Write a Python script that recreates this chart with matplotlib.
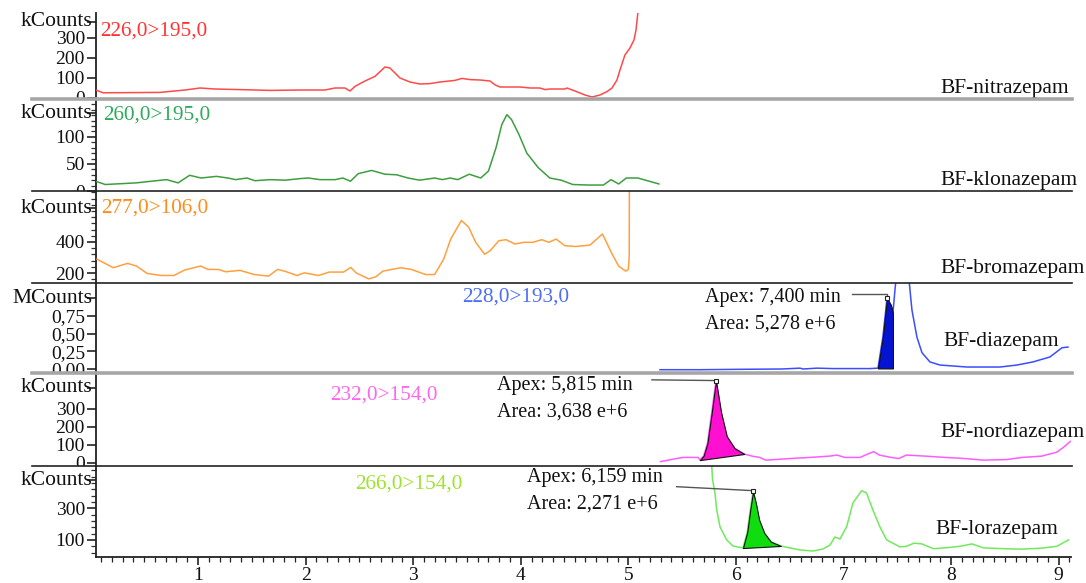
import numpy as np
import matplotlib
matplotlib.use("Agg")
import matplotlib.pyplot as plt
from matplotlib.lines import Line2D
from matplotlib.ticker import FixedLocator, MultipleLocator, NullLocator
from matplotlib.transforms import blended_transform_factory, Bbox, TransformedBbox

plt.rcParams['font.family'] = ['Liberation Serif', 'DejaVu Serif']

# ---------------- data (time in min, intensity) ----------------
nitra_t = [0.052, 0.117, 0.40, 0.647, 0.879, 1.019, 1.158, 1.390, 1.669, 1.948, 2.180, 2.273, 2.366, 2.413,
           2.459, 2.552, 2.645, 2.738, 2.784, 2.831, 2.877, 2.970, 3.063, 3.156, 3.249, 3.388, 3.454, 3.528,
           3.621, 3.714, 3.760, 3.807, 3.993, 4.086, 4.178, 4.225, 4.271, 4.411, 4.429, 4.504, 4.597, 4.662,
           4.736, 4.801, 4.848, 4.894, 4.922, 4.968, 5.015, 5.052, 5.071, 5.089, 5.100]
nitra_v = [40, 26, 27, 28, 40, 50, 45, 42, 38, 40, 40, 50, 50, 35, 58, 85, 108, 155, 150, 125, 100, 80, 70, 72,
           80, 88, 98, 92, 90, 85, 66, 55, 55, 50, 50, 42, 45, 45, 50, 35, 15, 5, 15, 32, 50, 90, 140, 215, 250,
           290, 340, 430, 600]

klon_t = [0.049, 0.138, 0.424, 0.566, 0.708, 0.815, 0.922, 1.029, 1.171, 1.278, 1.349, 1.456, 1.528, 1.670,
          1.812, 1.954, 2.026, 2.133, 2.275, 2.347, 2.417, 2.489, 2.613, 2.738, 2.845, 2.952, 3.059, 3.201,
          3.272, 3.344, 3.414, 3.521, 3.628, 3.700, 3.770, 3.824, 3.871, 3.914, 3.984, 4.056, 4.163, 4.270,
          4.376, 4.483, 4.625, 4.768, 4.839, 4.910, 4.981, 5.088, 5.195, 5.284]
klon_v = [18, 12, 15, 18, 21, 15, 29, 24, 27, 24, 21, 24, 19, 21, 20, 23, 24, 21, 21, 24, 18, 32, 38, 31, 30,
          24, 20, 24, 21, 24, 21, 31, 24, 37, 80, 123, 141, 132, 104, 70, 43, 24, 20, 12, 11, 11, 21, 13, 24,
          24, 18, 13]

brom_t = [0.062, 0.212, 0.345, 0.428, 0.527, 0.660, 0.776, 0.875, 1.025, 1.092, 1.191, 1.257, 1.390, 1.523,
          1.656, 1.739, 1.805, 1.921, 1.988, 2.121, 2.220, 2.353, 2.419, 2.469, 2.586, 2.652, 2.718, 2.884,
          2.983, 3.116, 3.199, 3.283, 3.349, 3.448, 3.515, 3.581, 3.664, 3.714, 3.796, 3.863, 3.946, 4.029,
          4.112, 4.195, 4.261, 4.328, 4.411, 4.510, 4.643, 4.759, 4.842, 4.909, 4.975, 5.000, 5.008, 5.010]
brom_v = [289, 234, 262, 245, 197, 184, 184, 219, 245, 223, 223, 208, 217, 190, 180, 223, 212, 184, 201, 184,
          206, 206, 236, 201, 162, 175, 212, 234, 223, 190, 190, 289, 419, 539, 496, 398, 321, 343, 408, 415,
          387, 398, 398, 415, 398, 419, 376, 371, 380, 452, 332, 245, 212, 223, 310, 1000]

diaz_t = [5.294, 5.666, 6.000, 6.428, 6.595, 6.623, 6.753, 6.902, 7.134, 7.246, 7.320, 7.366, 7.404, 7.441,
          7.459, 7.478, 7.497, 7.550, 7.599, 7.636, 7.682, 7.729, 7.803, 7.896, 8.147, 8.454, 8.612, 8.761,
          8.918, 9.030, 9.086]
diaz_v = [-0.010, -0.010, -0.005, 0.000, 0.012, 0.000, 0.012, 0.006, 0.006, 0.006, 0.012, 0.46, 1.00, 0.90,
          0.79, 1.12, 1.40, 2.20, 1.40, 0.83, 0.45, 0.23, 0.10, 0.056, 0.028, 0.028, 0.056, 0.10, 0.17, 0.30,
          0.31]

nord_t = [5.300, 5.505, 5.649, 5.665, 5.700, 5.735, 5.775, 5.797, 5.815, 5.862, 5.915, 5.987, 6.077, 6.151,
          6.222, 6.276, 6.366, 6.509, 6.688, 6.867, 6.939, 7.011, 7.154, 7.226, 7.280, 7.333, 7.441, 7.513,
          7.584, 7.763, 7.943, 8.122, 8.301, 8.516, 8.659, 8.839, 8.982, 9.050, 9.108]
nord_v = [8, 31, 31, 16, 40, 110, 280, 380, 455, 281, 148, 82, 50, 38, 31, 16, 19, 25, 31, 38, 44, 31, 31, 50,
          63, 44, 31, 25, 44, 38, 31, 25, 16, 19, 31, 38, 60, 90, 120]

lora_t = [5.760, 5.774, 5.783, 5.805, 5.821, 5.852, 5.914, 5.972, 6.065, 6.105, 6.135, 6.159, 6.185, 6.216,
          6.263, 6.324, 6.417, 6.471, 6.595, 6.716, 6.809, 6.874, 6.920, 6.967, 7.029, 7.087, 7.168, 7.214,
          7.273, 7.338, 7.401, 7.524, 7.584, 7.656, 7.728, 7.835, 7.943, 8.086, 8.194, 8.301, 8.480, 8.659,
          8.839, 8.982, 9.090]
lora_v = [900, 573, 478, 396, 289, 182, 100, 62, 49, 150, 300, 405, 333, 226, 144, 89, 62, 54, 37, 30, 43, 68,
          119, 106, 184, 333, 411, 396, 289, 182, 100, 56, 60, 80, 75, 45, 50, 60, 75, 50, 45, 42, 48, 60, 100]

transitions = ["226,0>195,0", "260,0>195,0", "277,0>106,0", "228,0>193,0", "232,0>154,0", "266,0>154,0"]
compounds = ["BF-nitrazepam", "BF-klonazepam", "BF-bromazepam", "BF-diazepam", "BF-nordiazepam", "BF-lorazepam"]
units = ["kCounts", "kCounts", "kCounts", "MCounts", "kCounts", "kCounts"]
unit_at = [380, 144, 619, 1.0, 417, 478]
ytick_vals = [[0, 100, 200, 300], [0, 50, 100], [200, 400], [0, 0.25, 0.5, 0.75], [0, 100, 200, 300], [100, 300]]
ytick_text = [["0", "100", "200", "300"], ["0", "50", "100"], ["200", "400"],
              ["0,00", "0,25", "0,50", "0,75"], ["0", "100", "200", "300"], ["100", "300"]]
xtick_vals = [1, 2, 3, 4, 5, 6, 7, 8, 9]

# integrated peaks: panel index, apex time, apex label, area label, window
peak_panel = [3, 4, 5]
peak_apex = [7.400, 5.815, 6.159]
peak_apex_txt = ["Apex: 7,400 min", "Apex: 5,815 min", "Apex: 6,159 min"]
peak_area_txt = ["Area: 5,278 e+6", "Area: 3,638 e+6", "Area: 2,271 e+6"]
peak_start = [7.320, 5.665, 6.065]
peak_end = [7.459, 6.077, 6.417]

series_t = [nitra_t, klon_t, brom_t, diaz_t, nord_t, lora_t]
series_v = [nitra_v, klon_v, brom_v, diaz_v, nord_v, lora_v]

# ---------------- styling / layout ----------------
line_colors = ['#ff4a4a', '#3d9e3d', '#ffa040', '#3a4dff', '#ff5cff', '#70ea5c']
label_colors = ['#ff3333', '#2eaa5a', '#ff8c1a', '#4d6ef5', '#ff66ee', '#9ee32e']
fill_colors = {3: '#0514d0', 4: '#ff10d0', 5: '#10dd10'}

W, H = 1086, 583
fig = plt.figure(figsize=(W / 100, H / 100), dpi=100)
XL, XR = 96, 1071
tops = [13, 99, 191, 283, 373, 466]
bots = [99, 191, 283, 373, 466, 557]
clip_tops = [0, 99, 191, 283, 373, 466]
ylims = [(-5, 425), (0, 170), (135.5, 729), (-0.0565, 1.215), (-16.7, 500), (-7.6, 566.6)]
xlim = (0.052, 9.114)

mrm_pos = [(0.089, 335), (0.117, 141), (0.099, 619), (3.454, 1.017), (2.227, 378), (2.459, 453)]
name_pos = [(7.896, 50), (7.896, 20), (7.896, 232), (7.924, 0.395), (7.896, 172), (7.85, 163)]
apex_txt_pos = {3: (5.712, 1.017, 0.636), 4: (3.779, 428, 283), 5: (4.058, 497, 327)}
leader = {3: ([7.075, 7.40, 7.40], [1.06, 1.06, 1.0]),
          4: ([5.219, 5.815], [462, 458]),
          5: ([5.449, 6.159], [436, 411])}

axes = []
for i in range(6):
    ax = fig.add_axes([XL / W, 1 - bots[i] / H, (XR - XL) / W, (bots[i] - tops[i]) / H])
    ax.patch.set_alpha(0)
    ax.set_xlim(*xlim)
    ax.set_ylim(*ylims[i])
    for s in ['top', 'right']:
        ax.spines[s].set_visible(False)
    ax.spines['left'].set_linewidth(1.3)
    ax.spines['left'].set_color('#222222')
    if i < 5:
        ax.spines['bottom'].set_visible(False)
        ax.tick_params(axis='x', which='both', bottom=False, labelbottom=False)
    else:
        ax.spines['bottom'].set_linewidth(1.3)
        ax.spines['bottom'].set_color('#222222')
        ax.xaxis.set_major_locator(FixedLocator(xtick_vals))
        ax.xaxis.set_minor_locator(MultipleLocator(0.1))
        ax.set_xticklabels([str(v) for v in xtick_vals])
        ax.tick_params(axis='x', which='major', direction='out', length=6, width=1.1, pad=1.5,
                       labelsize=14, colors='#111111')
        ax.tick_params(axis='x', which='minor', direction='out', length=3.5, width=0.9, colors='#222222')

    yt = ytick_vals[i] + [unit_at[i]]
    ax.yaxis.set_major_locator(FixedLocator(yt))
    ax.set_yticklabels(ytick_text[i] + [''])
    if i == 1:
        ax.yaxis.set_minor_locator(MultipleLocator(10))
    elif i == 2:
        ax.yaxis.set_minor_locator(MultipleLocator(40))
    elif i == 5:
        ax.yaxis.set_minor_locator(FixedLocator(np.arange(20, 567, 40)))
    else:
        ax.yaxis.set_minor_locator(NullLocator())
    ax.tick_params(axis='y', which='major', direction='out', length=6.5, width=1.1, pad=1.5,
                   labelsize=14, colors='#111111')
    ax.tick_params(axis='y', which='minor', direction='out', length=3.5, width=0.9, colors='#333333')

    # clip left-margin texts to the panel's own band (as in the instrument software)
    clipbox = TransformedBbox(Bbox([[0, 1 - bots[i] / H], [XL / W, 1 - clip_tops[i] / H]]), fig.transFigure)
    for tk in ax.yaxis.get_major_ticks():
        tk.label1.set_clip_box(clipbox)
        tk.label1.set_clip_on(True)

    trans = blended_transform_factory(ax.transAxes, ax.transData)
    ut = ax.text(-4 / (XR - XL), unit_at[i], units[i], transform=trans, ha='right', va='center',
                 fontsize=15.5, color='#111111')
    ut.set_clip_box(clipbox)
    ut.set_clip_on(True)

    t = np.array(series_t[i])
    v = np.array(series_v[i])
    ax.plot(t, v, color=line_colors[i], lw=1.1, zorder=3)

    ax.text(mrm_pos[i][0], mrm_pos[i][1], transitions[i], color=label_colors[i], fontsize=15.3,
            ha='left', va='center')
    ax.text(name_pos[i][0], name_pos[i][1], compounds[i], color='#111111', fontsize=15.5,
            ha='left', va='center')
    axes.append(ax)

for k, pi in enumerate(peak_panel):
    ax = axes[pi]
    t = np.array(series_t[pi])
    v = np.array(series_v[pi])
    m = (t >= peak_start[k] - 1e-9) & (t <= peak_end[k] + 1e-9)
    tb, vb = t[m], v[m]
    base = np.interp(tb, [tb[0], tb[-1]], [vb[0], vb[-1]])
    if pi == 3:
        base = np.full_like(tb, 0.008)
    ax.fill_between(tb, base, vb, facecolor=fill_colors[pi], edgecolor='#111111', lw=0.8, zorder=4)
    lx, ly = leader[pi]
    ax.plot(lx, ly, color='#555555', lw=1.0, zorder=5)
    ax.plot([lx[-1]], [ly[-1]], marker='s', ms=3.5, mfc='white', mec='#222222', mew=0.8, zorder=6)
    x0, y1, y2 = apex_txt_pos[pi]
    ax.text(x0, y1, peak_apex_txt[k], fontsize=14.5, color='#111111', ha='left', va='center')
    ax.text(x0, y2, peak_area_txt[k], fontsize=14.5, color='#111111', ha='left', va='center')

# panel separators
sep_y = [99, 191, 283, 373, 466]
sep_style = [('#a6a6a6', 2.6), ('#222222', 1.2), ('#222222', 1.2), ('#a6a6a6', 2.6), ('#222222', 1.2)]
for y, (c, lw) in zip(sep_y, sep_style):
    fig.add_artist(Line2D([32 / W, 1072 / W], [1 - y / H, 1 - y / H], transform=fig.transFigure,
                          color=c, lw=lw, zorder=10))

fig.savefig("out.png", dpi=100)
